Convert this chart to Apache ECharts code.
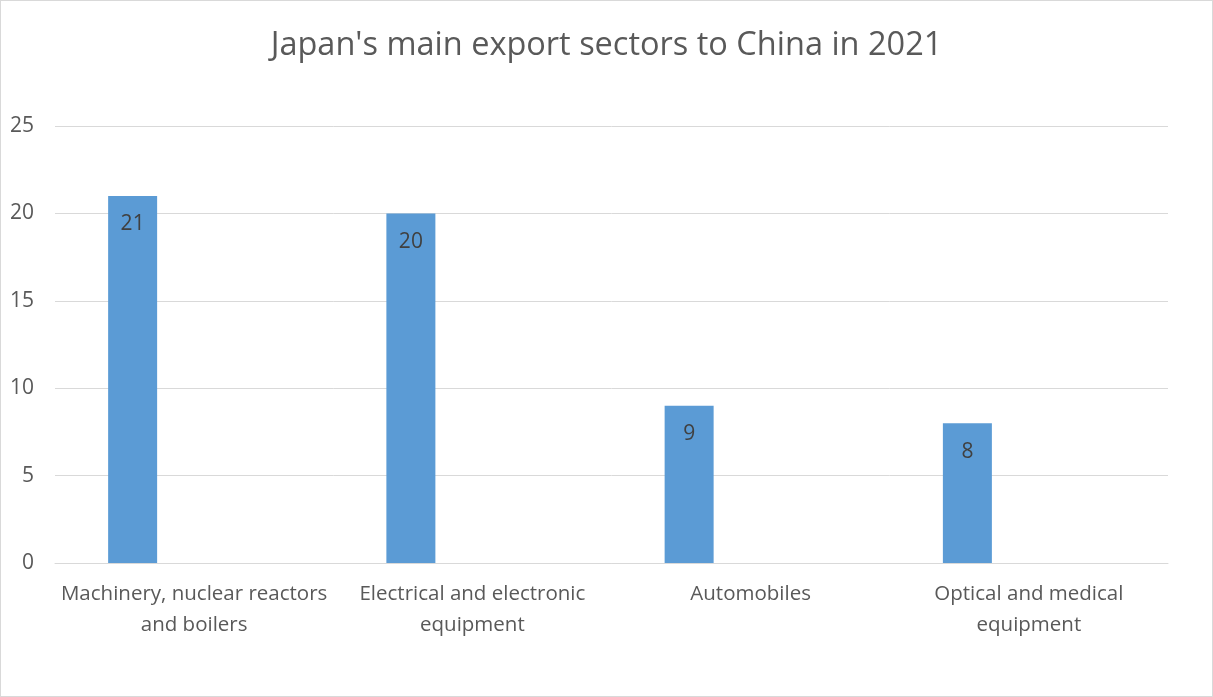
<!DOCTYPE html>
<html>
<head>
<meta charset="utf-8">
<title>Japan's main export sectors to China in 2021</title>
<script src="https://cdn.jsdelivr.net/npm/echarts@6/dist/echarts.min.js"></script>
<style>
  html, body { margin: 0; padding: 0; background: #fff; }
  #chart { width: 1213px; height: 697px; box-sizing: border-box; border: 1px solid #d9d9d9; }
</style>
</head>
<body>
<div id="chart"></div>
<script>
// Export sectors (line breaks as shown under the axis)
const categories = [
  'Machinery, nuclear reactors\nand boilers',
  'Electrical and electronic\nequipment',
  'Automobiles',
  'Optical and medical\nequipment'
];
// Export share per sector
const exportValues = [21, 20, 9, 8];
// Second, empty series of the original clustered layout
const emptyValues = [null, null, null, null];
// Value axis ticks
const yTicks = [0, 5, 10, 15, 20, 25];

const FONT = '"Open Sans", "Noto Sans", sans-serif';
const chart = echarts.init(document.getElementById('chart'), null, { renderer: 'canvas' });

chart.setOption({
  animation: false,
  backgroundColor: '#ffffff',
  title: {
    text: "Japan's main export sectors to China in 2021",
    left: 'center',
    top: 23,
    textStyle: { fontFamily: FONT, fontSize: 32.5, fontWeight: 'normal', color: '#595959' }
  },
  grid: { left: 54, right: 44, top: 125, bottom: 133, containLabel: false },
  xAxis: {
    type: 'category',
    data: categories,
    axisLine: { show: true, lineStyle: { color: '#d9d9d9', width: 1 } },
    axisTick: { show: false },
    axisLabel: {
      fontFamily: FONT, fontSize: 20.5, color: '#595959',
      lineHeight: 31, margin: 16, interval: 0
    }
  },
  yAxis: {
    type: 'value',
    min: yTicks[0],
    max: yTicks[yTicks.length - 1],
    interval: yTicks[1] - yTicks[0],
    axisLine: { show: false },
    axisTick: { show: false },
    splitLine: { lineStyle: { color: '#d9d9d9', width: 1 } },
    axisLabel: { fontFamily: FONT, fontSize: 21, color: '#595959', margin: 21 }
  },
  series: [
    {
      type: 'bar',
      data: exportValues,
      barWidth: 49,
      barGap: '151%',
      itemStyle: { color: '#5b9bd5' },
      label: {
        show: true,
        position: 'insideTop',
        distance: 18,
        fontFamily: FONT, fontSize: 21, color: '#404040'
      }
    },
    {
      type: 'bar',
      data: emptyValues,
      barWidth: 49,
      itemStyle: { color: '#ed7d31' }
    }
  ]
});
</script>
</body>
</html>
